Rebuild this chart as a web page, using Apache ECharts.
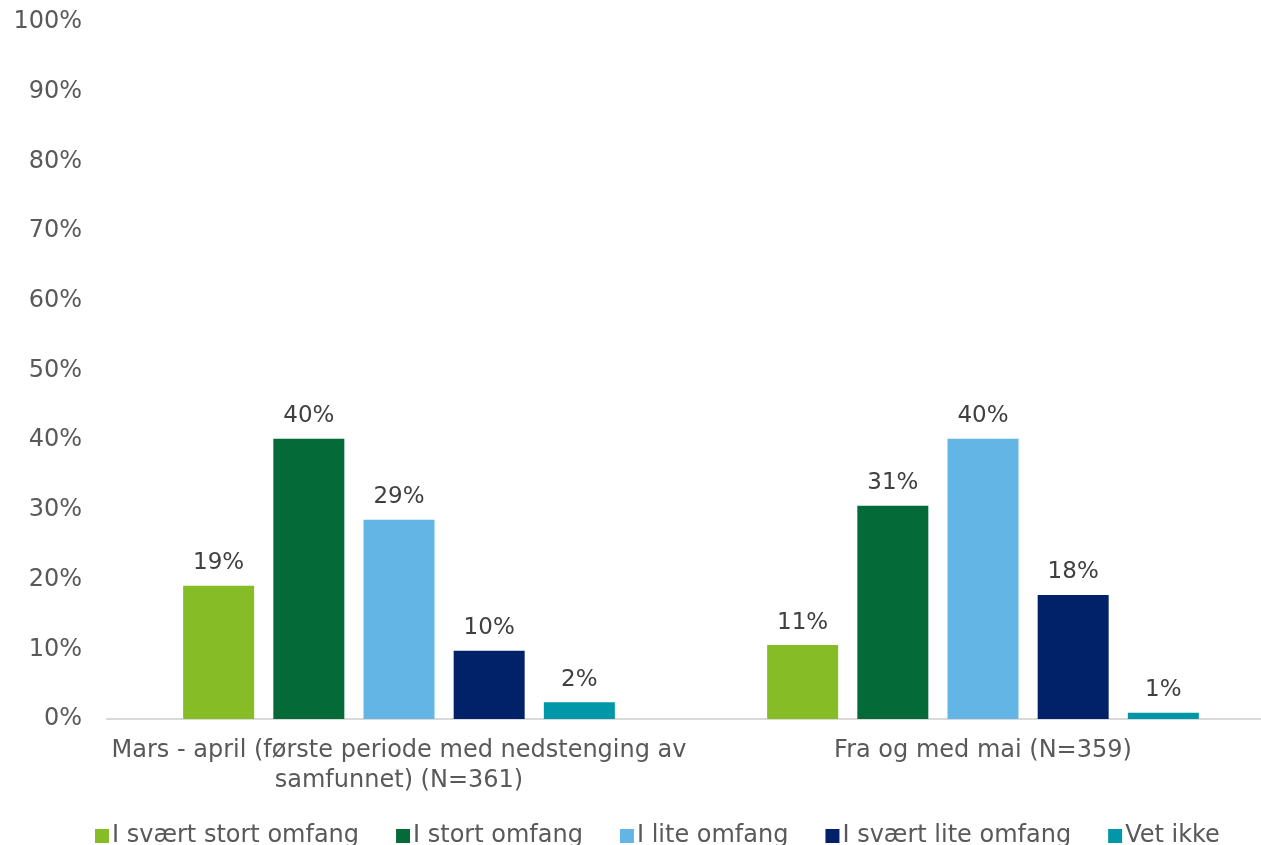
<!DOCTYPE html>
<html>
<head>
<meta charset="utf-8">
<script src="https://cdn.jsdelivr.net/npm/echarts@6/dist/echarts.min.js"></script>
<style>
  html, body { margin: 0; padding: 0; background: #fff; }
  #chart { width: 1261px; height: 845px; }
</style>
</head>
<body>
<div id="chart"></div>
<script>
// categories and values (percent)
var categories = [
  'Mars - april (første periode med nedstenging av\nsamfunnet) (N=361)',
  'Fra og med mai (N=359)'
];
var seriesNames = ['I svært stort omfang', 'I stort omfang', 'I lite omfang', 'I svært lite omfang', 'Vet ikke'];
var svaertStort = [19.1, 10.6];
var stort = [40.2, 30.6];
var lite = [28.6, 40.2];
var svaertLite = [9.8, 17.8];
var vetIkke = [2.4, 0.9];
var colors = ['#86bc25', '#046a38', '#62b5e5', '#012169', '#0097a9'];

var font = 'Verdana, "DejaVu Sans", sans-serif';
var myChart = echarts.init(document.getElementById('chart'));

var allData = [svaertStort, stort, lite, svaertLite, vetIkke];
var series = allData.map(function (d, i) {
  return {
    name: seriesNames[i],
    type: 'bar',
    barWidth: 71,
    barGap: '27%',
    itemStyle: { color: colors[i] },
    label: {
      show: true,
      position: 'top',
      distance: 11,
      fontFamily: font,
      fontSize: 23,
      color: '#404040',
      formatter: function (p) { return Math.round(p.value) + '%'; }
    },
    data: d
  };
});

var option = {
  animation: false,
  textStyle: { fontFamily: font },
  grid: { left: 107, width: 1168, top: 22, bottom: 126, containLabel: false, outerBoundsMode: 'none' },
  legend: {
    top: 819,
    left: 90,
    itemWidth: 14,
    itemHeight: 14,
    itemGap: 37,
    icon: 'rect',
    textStyle: { fontFamily: font, fontSize: 24, color: '#595959', padding: [0, 0, 0, -2] },
    data: seriesNames
  },
  xAxis: {
    type: 'category',
    data: categories,
    axisLine: { lineStyle: { color: '#d9d9d9', width: 2 } },
    axisTick: { show: false },
    axisLabel: {
      interval: 0,
      fontFamily: font,
      fontSize: 24,
      color: '#595959',
      lineHeight: 30,
      margin: 17,
      align: 'center'
    }
  },
  yAxis: {
    type: 'value',
    min: 0,
    max: 100,
    interval: 10,
    splitLine: { show: false },
    axisLine: { show: false },
    axisTick: { show: false },
    axisLabel: {
      fontFamily: font,
      fontSize: 24,
      color: '#595959',
      margin: 25,
      formatter: '{value}%'
    }
  },
  series: series
};
myChart.setOption(option);
</script>
</body>
</html>
